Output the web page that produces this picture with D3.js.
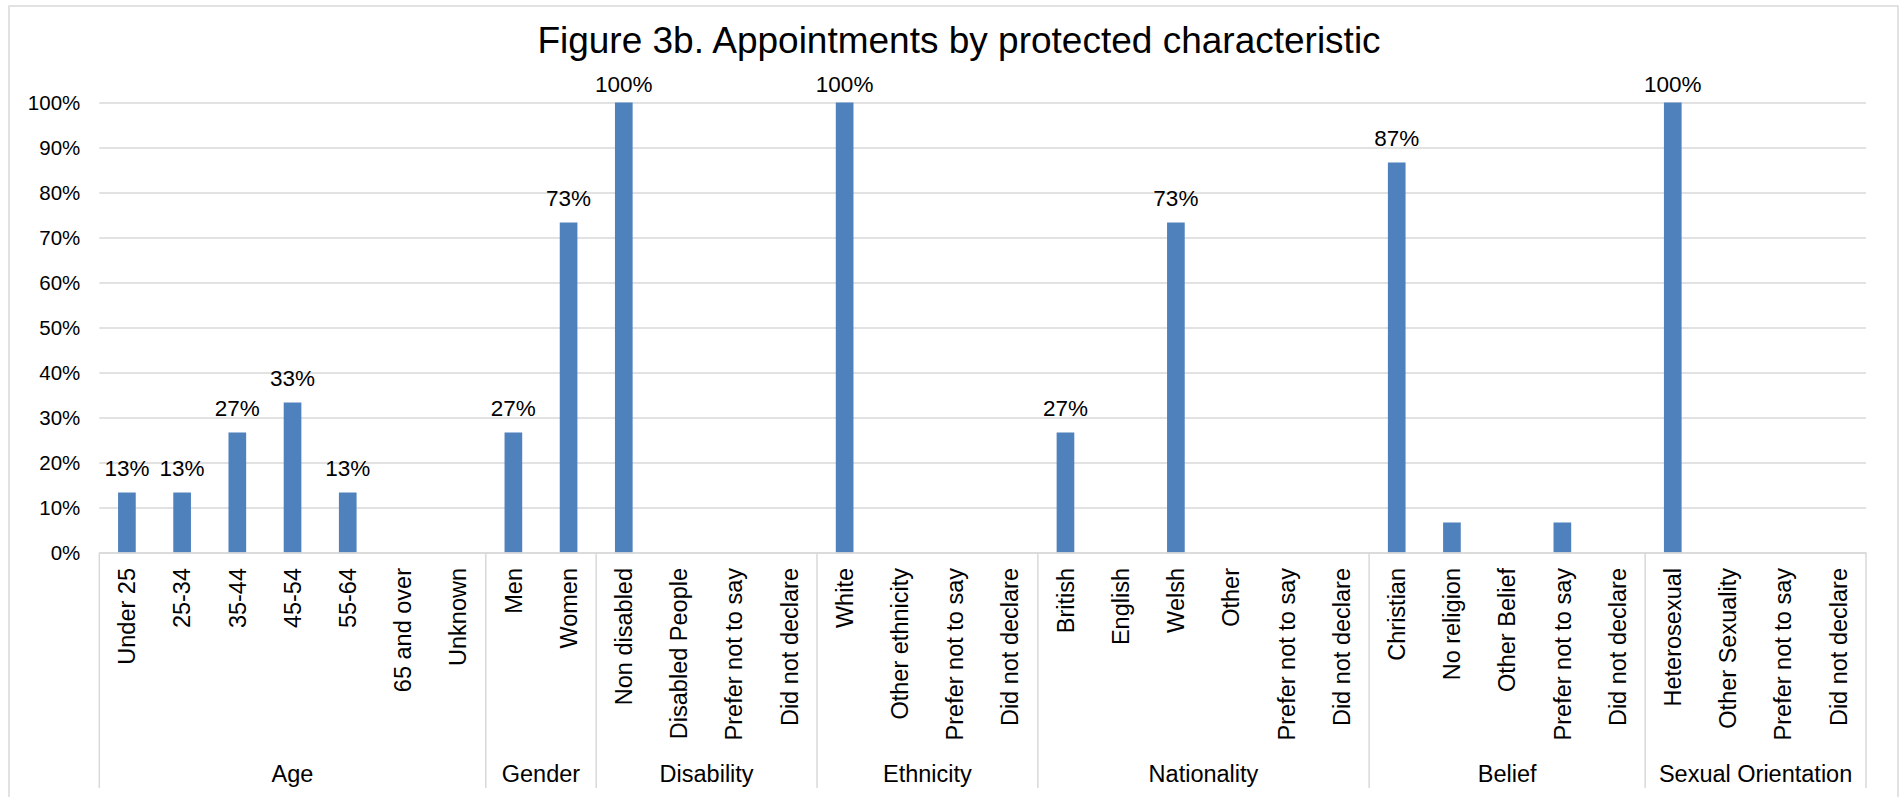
<!DOCTYPE html>
<html>
<head>
<meta charset="utf-8">
<script src="https://cdn.jsdelivr.net/npm/d3@7"></script>
<style>
  html, body { margin: 0; padding: 0; background: #fff; }
  svg { display: block; font-family: "Liberation Sans", Arial, sans-serif; }
</style>
</head>
<body>
<svg id="chart" width="1903" height="797"></svg>
<script>
// Category labels along the x axis, in order
const categories = [
  "Under 25", "25-34", "35-44", "45-54", "55-64", "65 and over", "Unknown",
  "Men", "Women",
  "Non disabled", "Disabled People", "Prefer not to say", "Did not declare",
  "White", "Other ethnicity", "Prefer not to say", "Did not declare",
  "British", "English", "Welsh", "Other", "Prefer not to say", "Did not declare",
  "Christian", "No religion", "Other Belief", "Prefer not to say", "Did not declare",
  "Heterosexual", "Other Sexuality", "Prefer not to say", "Did not declare"
];

// Protected characteristic groups and how many categories each spans
const groupNames = ["Age", "Gender", "Disability", "Ethnicity", "Nationality", "Belief", "Sexual Orientation"];
const groupSizes = [7, 2, 4, 4, 6, 5, 4];

// Share of appointments (%) for each category
const values = [
  13.33, 13.33, 26.67, 33.33, 13.33, 0, 0,
  26.67, 73.33,
  100, 0, 0, 0,
  100, 0, 0, 0,
  26.67, 0, 73.33, 0, 0, 0,
  86.67, 6.67, 0, 6.67, 0,
  100, 0, 0, 0
];

// Which bars carry a value label
const labelled = [
  true, true, true, true, true, false, false,
  true, true,
  true, false, false, false,
  true, false, false, false,
  true, false, true, false, false, false,
  true, false, false, false, false,
  true, false, false, false
];

// Y axis ticks (%)
const yTicks = [0, 10, 20, 30, 40, 50, 60, 70, 80, 90, 100];

const title = "Figure 3b. Appointments by protected characteristic";

const svg = d3.select("#chart");
const W = 1903, H = 797;
const plot = { left: 99.3, right: 1866, top: 102.5, bottom: 552.5 };
const barColor = "#4f81bd";
const lineColor = "#d9d9d9";

// Chart area frame
svg.append("rect")
  .attr("x", 9).attr("y", 6)
  .attr("width", 1889).attr("height", 800)
  .attr("fill", "#fff")
  .attr("stroke", lineColor).attr("stroke-width", 1.5);

// Title
svg.append("text")
  .attr("x", 959).attr("y", 53)
  .attr("text-anchor", "middle")
  .attr("font-size", 37)
  .attr("fill", "#000")
  .text(title);

const x = d3.scaleBand()
  .domain(d3.range(categories.length))
  .range([plot.left, plot.right])
  .paddingInner(0.68)
  .paddingOuter(0.34);

const y = d3.scaleLinear()
  .domain([0, 100])
  .range([plot.bottom, plot.top]);

// Horizontal gridlines and y tick labels
const yAxis = svg.append("g")
  .attr("transform", `translate(${plot.left},0)`)
  .call(d3.axisLeft(y)
    .tickValues(yTicks)
    .tickSize(-(plot.right - plot.left))
    .tickPadding(19)
    .tickFormat(d => d + "%"));
yAxis.select(".domain").remove();
yAxis.selectAll(".tick line")
  .attr("stroke", lineColor).attr("stroke-width", 1.5);
yAxis.selectAll(".tick text")
  .attr("font-size", 20.5)
  .attr("font-family", "Liberation Sans, Arial, sans-serif")
  .attr("fill", "#000");

// Bars
svg.append("g")
  .selectAll("rect")
  .data(values)
  .join("rect")
  .attr("x", (d, i) => x(i))
  .attr("y", d => y(d))
  .attr("width", x.bandwidth())
  .attr("height", d => y(0) - y(d))
  .attr("fill", barColor);

// Value labels above bars (kept inside the plot top)
const fmt = d => d3.format(".0f")(d) + "%";
svg.append("g")
  .selectAll("text")
  .data(values.map((v, i) => ({ v, i })).filter(d => labelled[d.i]))
  .join("text")
  .attr("x", d => x(d.i) + x.bandwidth() / 2)
  .attr("y", d => Math.max(y(d.v) - 16.5, plot.top - 10.5))
  .attr("text-anchor", "middle")
  .attr("font-size", 22.5)
  .attr("fill", "#000")
  .text(d => fmt(d.v));

// X axis line with rotated category labels
const xAxis = svg.append("g")
  .attr("transform", `translate(0,${plot.bottom})`)
  .call(d3.axisBottom(x)
    .tickSize(0)
    .tickSizeOuter(0)
    .tickFormat(i => categories[i]));
xAxis.select(".domain")
  .attr("stroke", lineColor).attr("stroke-width", 1.5);
xAxis.selectAll(".tick text")
  .attr("font-size", 23.5)
  .attr("font-family", "Liberation Sans, Arial, sans-serif")
  .attr("fill", "#000")
  .attr("text-anchor", "end")
  .attr("transform", "translate(0,15.5) rotate(-90)")
  .attr("x", 0)
  .attr("y", 0)
  .attr("dy", "0.35em");

// Group separators and group names
const step = x.step();
const x0 = x.range()[0];
const bounds = [0];
groupSizes.forEach(s => bounds.push(bounds[bounds.length - 1] + s));

svg.append("g")
  .selectAll("line")
  .data(bounds)
  .join("line")
  .attr("x1", b => x0 + b * step)
  .attr("x2", b => x0 + b * step)
  .attr("y1", plot.bottom)
  .attr("y2", 788)
  .attr("stroke", lineColor)
  .attr("stroke-width", 1.5);

svg.append("g")
  .selectAll("text")
  .data(groupNames)
  .join("text")
  .attr("x", (g, i) => x0 + (bounds[i] + bounds[i + 1]) / 2 * step)
  .attr("y", 782)
  .attr("text-anchor", "middle")
  .attr("font-size", 23.5)
  .attr("fill", "#000")
  .text(g => g);
</script>
</body>
</html>
